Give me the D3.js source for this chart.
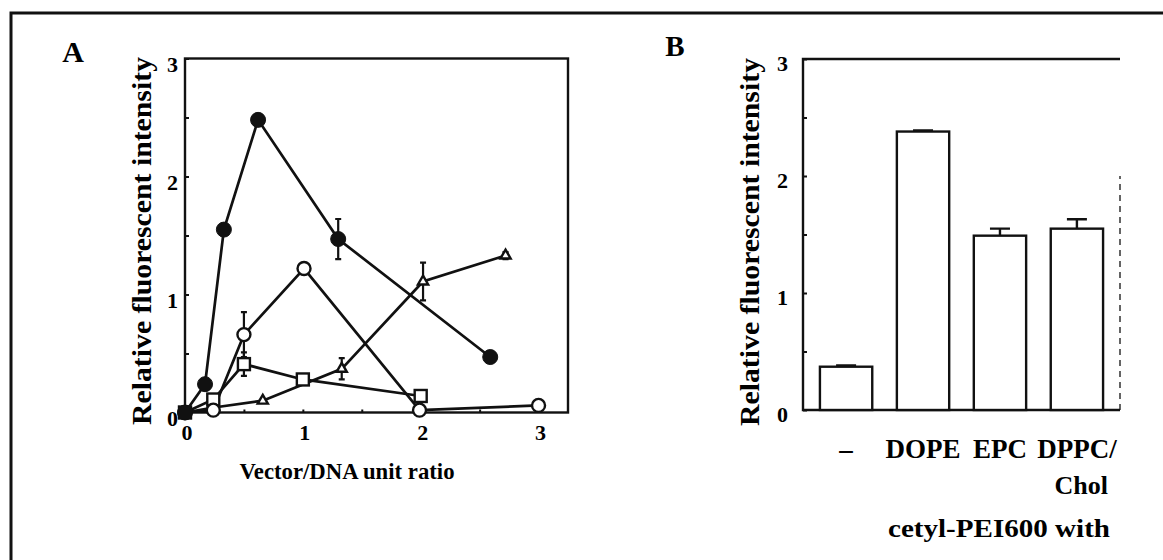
<!DOCTYPE html>
<html>
<head>
<meta charset="utf-8">
<script src="https://cdn.jsdelivr.net/npm/d3@7"></script>
<style>
  html, body { margin: 0; padding: 0; background: #fff; }
  svg { display: block; }
</style>
</head>
<body>
<svg id="chart" width="1163" height="560"></svg>
<script>
// ---------- Panel A data ----------
const filledX = [0, 0.17, 0.33, 0.62, 1.30, 2.59];
const filledY = [0, 0.24, 1.55, 2.48, 1.47, 0.47];
const filledErr = [0, 0, 0, 0, 0.17, 0];

const openX = [0, 0.24, 0.50, 1.01, 1.99, 3.00];
const openY = [0, 0.02, 0.66, 1.22, 0.02, 0.06];
const openErr = [0, 0, 0.19, 0, 0, 0];

const squareX = [0, 0.24, 0.50, 1.00, 2.00];
const squareY = [0, 0.11, 0.41, 0.28, 0.14];
const squareErr = [0, 0, 0.10, 0, 0];

const triX = [0, 0.23, 0.66, 1.33, 2.02, 2.72];
const triY = [0, 0.04, 0.10, 0.37, 1.11, 1.33];
const triErr = [0, 0, 0, 0.09, 0.16, 0.03];

const xTicksA = [0, 1, 2, 3];
const yTicks = [0, 1, 2, 3];

// ---------- Panel B data ----------
const categoriesB = ["–", "DOPE", "EPC", "DPPC/"];
const valuesB = [0.37, 2.38, 1.49, 1.55];
const errorsB = [0.01, 0.01, 0.06, 0.08];

const svg = d3.select("#chart")
  .style("font-family", "'Liberation Serif', 'DejaVu Serif', 'Noto Serif', 'Times New Roman', serif");
const ink = "#111";

// outer frame
svg.append("path")
  .attr("d", "M11,560 L11,13 L1163,13")
  .attr("fill", "none").attr("stroke", ink).attr("stroke-width", 3);

// ================= Panel A =================
const xA = d3.scaleLinear().domain([0, 3.25]).range([185, 568]);
const yA = d3.scaleLinear().domain([0, 3]).range([412.5, 58.5]);

const gA = svg.append("g");
gA.append("rect")
  .attr("x", xA(0)).attr("y", yA(3))
  .attr("width", xA(3.25) - xA(0)).attr("height", yA(0) - yA(3))
  .attr("fill", "none").attr("stroke", ink).attr("stroke-width", 2.4);

const yAxisA = d3.axisRight(yA).tickValues(d3.range(0, 3.01, 0.5)).tickSize(4).tickFormat("");
gA.append("g").attr("transform", `translate(${xA(0)},0)`).call(yAxisA)
  .call(g => g.select(".domain").remove())
  .selectAll("line").attr("stroke", ink).attr("stroke-width", 2);
const xAxisA = d3.axisTop(xA).tickValues(d3.range(0, 3.01, 0.5)).tickSize(3).tickFormat("");
gA.append("g").attr("transform", `translate(0,${yA(0)})`).call(xAxisA)
  .call(g => g.select(".domain").remove())
  .selectAll("line").attr("stroke", ink).attr("stroke-width", 2);

gA.selectAll(".ytl").data(yTicks).join("text")
  .attr("x", xA(0) - 7).attr("y", d => yA(d) + 13)
  .attr("text-anchor", "end").attr("font-size", 22).attr("font-weight", "bold")
  .text(d => d);
gA.selectAll(".xtl").data(xTicksA).join("text")
  .attr("x", d => xA(d) + 2).attr("y", yA(0) + 27)
  .attr("text-anchor", "middle").attr("font-size", 22).attr("font-weight", "bold")
  .text(d => d);

gA.append("text")
  .attr("transform", `translate(151,241) rotate(-90)`)
  .attr("text-anchor", "middle").attr("font-size", 27).attr("font-weight", "bold")
  .attr("textLength", 368).attr("lengthAdjust", "spacingAndGlyphs")
  .text("Relative fluorescent intensity");
gA.append("text")
  .attr("x", 347).attr("y", 479)
  .attr("text-anchor", "middle").attr("font-size", 23).attr("font-weight", "bold")
  .attr("textLength", 215).attr("lengthAdjust", "spacingAndGlyphs")
  .text("Vector/DNA unit ratio");
svg.append("text").attr("x", 73).attr("y", 62)
  .attr("text-anchor", "middle").attr("font-size", 30).attr("font-weight", "bold").text("A");

const line = d3.line().x(d => xA(d.x)).y(d => yA(d.y));
function series(xs, ys, es) { return xs.map((x, i) => ({ x, y: ys[i], e: es[i] })); }
const sFilled = series(filledX, filledY, filledErr);
const sOpen = series(openX, openY, openErr);
const sSquare = series(squareX, squareY, squareErr);
const sTri = series(triX, triY, triErr);

[sFilled, sOpen, sSquare, sTri].forEach(s => {
  gA.append("path").datum(s).attr("d", line)
    .attr("fill", "none").attr("stroke", ink).attr("stroke-width", 2.7);
  const eb = s.filter(d => d.e > 0);
  gA.selectAll(null).data(eb).join("path")
    .attr("d", d => {
      const x = xA(d.x), y1 = yA(d.y + d.e), y2 = yA(d.y - d.e);
      return `M${x},${y1}V${y2}M${x - 3},${y1}H${x + 3}M${x - 3},${y2}H${x + 3}`;
    })
    .attr("fill", "none").attr("stroke", ink).attr("stroke-width", 2.2);
});

gA.selectAll(null).data(sTri).join("path")
  .attr("transform", d => `translate(${xA(d.x)},${yA(d.y)})`)
  .attr("d", d3.symbol(d3.symbolTriangle, 45))
  .attr("fill", "#fff").attr("stroke", ink).attr("stroke-width", 2.4);
gA.selectAll(null).data(sSquare).join("rect")
  .attr("x", d => xA(d.x) - 6).attr("y", d => yA(d.y) - 6)
  .attr("width", 12).attr("height", 12)
  .attr("fill", "#fff").attr("stroke", ink).attr("stroke-width", 2.4);
gA.selectAll(null).data(sOpen).join("circle")
  .attr("cx", d => xA(d.x)).attr("cy", d => yA(d.y)).attr("r", 6.5)
  .attr("fill", "#fff").attr("stroke", ink).attr("stroke-width", 2.4);
gA.selectAll(null).data(sFilled).join("circle")
  .attr("cx", d => xA(d.x)).attr("cy", d => yA(d.y)).attr("r", 7.5)
  .attr("fill", ink).attr("stroke", ink).attr("stroke-width", 1);

// ================= Panel B =================
const xB = d3.scaleBand().domain(categoriesB).range([803, 1120])
  .paddingInner(0.32).paddingOuter(0.22);
const yB = d3.scaleLinear().domain([0, 3]).range([410, 59]);
const gB = svg.append("g");

gB.append("path")
  .attr("d", `M1120,${yB(3)}H${xB.range()[0]}V${yB(0)}H1120`)
  .attr("fill", "none").attr("stroke", ink).attr("stroke-width", 2.4);
gB.append("line")
  .attr("x1", 1120).attr("x2", 1120).attr("y1", yB(0)).attr("y2", yB(2))
  .attr("stroke", ink).attr("stroke-width", 1.3).attr("stroke-dasharray", "6,5");

const yAxisB = d3.axisRight(yB).tickValues(d3.range(0, 3.01, 0.5)).tickSize(4).tickFormat("");
gB.append("g").attr("transform", `translate(${xB.range()[0]},0)`).call(yAxisB)
  .call(g => g.select(".domain").remove())
  .selectAll("line").attr("stroke", ink).attr("stroke-width", 2);

gB.selectAll(".ytl").data(yTicks).join("text")
  .attr("x", xB.range()[0] - 15).attr("y", d => yB(d) + 12)
  .attr("text-anchor", "end").attr("font-size", 22).attr("font-weight", "bold")
  .text(d => d);

const barData = categoriesB.map((c, i) => ({ c, v: valuesB[i], e: errorsB[i] }));
gB.selectAll(null).data(barData).join("rect")
  .attr("x", d => xB(d.c)).attr("y", d => yB(d.v))
  .attr("width", xB.bandwidth()).attr("height", d => yB(0) - yB(d.v))
  .attr("fill", "#fff").attr("stroke", ink).attr("stroke-width", 2.4);
gB.selectAll(null).data(barData).join("path")
  .attr("d", d => {
    const cx = xB(d.c) + xB.bandwidth() / 2, y1 = yB(d.v + d.e), y0 = yB(d.v);
    return `M${cx},${y0}V${y1}M${cx - 10},${y1}H${cx + 10}`;
  })
  .attr("fill", "none").attr("stroke", ink).attr("stroke-width", 2.4);

gB.selectAll(".cat").data(categoriesB).join("text")
  .attr("x", d => xB(d) + xB.bandwidth() / 2).attr("y", 458)
  .attr("text-anchor", "middle").attr("font-size", 27).attr("font-weight", "bold")
  .text(d => d);
gB.append("text").attr("x", 1108).attr("y", 494)
  .attr("text-anchor", "end").attr("font-size", 26).attr("font-weight", "bold").text("Chol");
gB.append("text").attr("x", 1110).attr("y", 537)
  .attr("text-anchor", "end").attr("font-size", 26).attr("font-weight", "bold")
  .attr("textLength", 222).attr("lengthAdjust", "spacingAndGlyphs")
  .text("cetyl-PEI600 with");

gB.append("text")
  .attr("transform", `translate(759,242) rotate(-90)`)
  .attr("text-anchor", "middle").attr("font-size", 27).attr("font-weight", "bold")
  .attr("textLength", 368).attr("lengthAdjust", "spacingAndGlyphs")
  .text("Relative fluorescent intensity");
svg.append("text").attr("x", 675).attr("y", 56)
  .attr("text-anchor", "middle").attr("font-size", 29).attr("font-weight", "bold").text("B");
</script>
</body>
</html>
